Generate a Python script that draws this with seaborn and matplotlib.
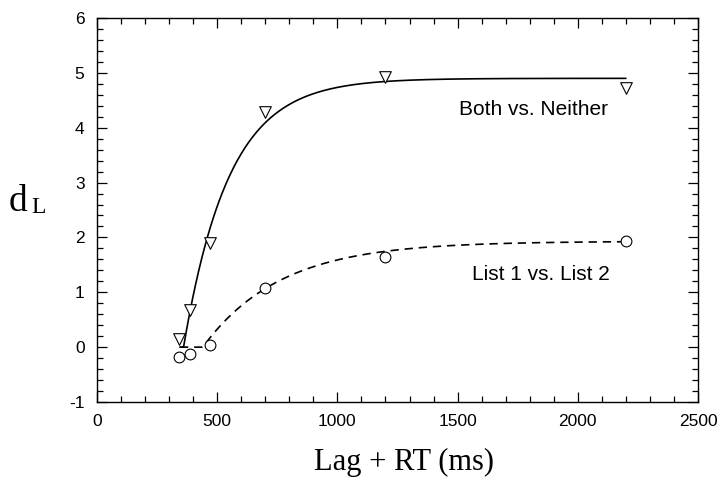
import numpy as np
import pandas as pd
import matplotlib
matplotlib.use("Agg")
import matplotlib.pyplot as plt
from matplotlib.ticker import MultipleLocator
import seaborn as sns

# ---- data ----
lag_rt = [340, 388, 470, 700, 1200, 2200]
both_vs_neither = [0.15, 0.68, 1.90, 4.29, 4.93, 4.72]
list1_vs_list2 = [-0.18, -0.13, 0.03, 1.07, 1.65, 1.93]

# fitted exponential approach-to-limit curves: lambda, beta, delta
both_fit = dict(lam=4.9, beta=0.0053, delta=360.0)
list_fit = dict(lam=1.93, beta=0.0031, delta=440.0)
curve_start, curve_end = 345, 2200

x_ticks = [0, 500, 1000, 1500, 2000, 2500]
y_ticks = [-1, 0, 1, 2, 3, 4, 5, 6]


def model(t, lam, beta, delta):
    return lam * (1 - np.exp(-beta * np.clip(t - delta, 0, None)))


sns.set_style("ticks")
plt.rcParams["font.family"] = ["Liberation Sans", "DejaVu Sans"]
plt.rcParams["axes.unicode_minus"] = False
plt.rcParams["text.color"] = "black"
plt.rcParams["xtick.color"] = "black"
plt.rcParams["ytick.color"] = "black"

fig = plt.figure(figsize=(7.25, 4.8), dpi=100)
ax = fig.add_axes([97 / 725, 78 / 480, 601 / 725, 384 / 480])

t = np.linspace(curve_start, curve_end, 600)
curves = pd.DataFrame({
    "t": t,
    "both": model(t, **both_fit),
    "list": model(t, **list_fit),
})
pts = pd.DataFrame({"t": lag_rt, "both": both_vs_neither, "list": list1_vs_list2})

sns.lineplot(data=curves, x="t", y="both", ax=ax, color="black", lw=1.2)
sns.lineplot(data=curves, x="t", y="list", ax=ax, color="black", lw=1.2,
             dashes=False)
ax.lines[-1].set_dashes((5, 3.5))

sns.scatterplot(data=pts, x="t", y="both", ax=ax, marker="v", s=70,
                facecolor="white", edgecolor="black", linewidth=0.8, zorder=5)
sns.scatterplot(data=pts, x="t", y="list", ax=ax, marker="o", s=60,
                facecolor="white", edgecolor="black", linewidth=0.8, zorder=5)

ax.set_xlim(0, 2500)
ax.set_ylim(-1, 6)
ax.set_xticks(x_ticks)
ax.set_yticks(y_ticks)
ax.xaxis.set_minor_locator(MultipleLocator(100))
ax.yaxis.set_minor_locator(MultipleLocator(0.2))
ax.tick_params(which="both", direction="in", top=True, right=True,
               color="black", width=0.9)
ax.tick_params(which="major", length=7, labelsize=12.5, pad=9,
               labelcolor="black")
ax.tick_params(which="minor", length=4)
for s in ax.spines.values():
    s.set_color("black")
    s.set_linewidth(1.0)
ax.set_xlabel("")
ax.set_ylabel("")

ax.text(1814, 4.23, "Both vs. Neither", fontsize=15, ha="center",
        va="baseline", color="black")
ax.text(1847, 1.22, "List 1 vs. List 2", fontsize=15, ha="center",
        va="baseline", color="black")

serif = ["Liberation Serif", "DejaVu Serif"]
fig.text(404 / 725, 1 - 470 / 480, "Lag + RT (ms)", fontsize=22,
         family=serif, ha="center", va="baseline")
fig.text(9 / 725, 1 - 211 / 480, "d", fontsize=27, family=serif,
         ha="left", va="baseline")
fig.text(31 / 725, 1 - 213 / 480, "L", fontsize=17, family=serif,
         ha="left", va="baseline")

fig.savefig("out.png", dpi=100)
